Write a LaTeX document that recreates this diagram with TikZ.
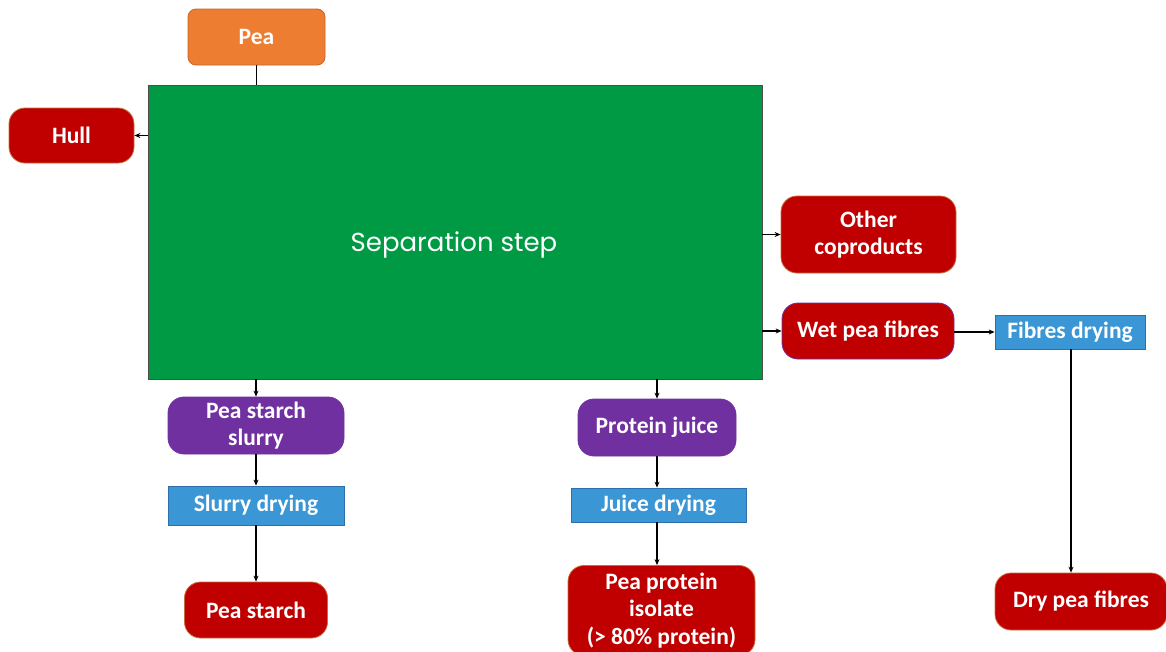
\documentclass[tikz,border=0pt]{standalone}
\usepackage{fontspec}
\setmainfont{Carlito}
\newfontfamily\sepfont{Poppins}
\usetikzlibrary{arrows.meta}
\definecolor{cRed}{RGB}{192,0,0}
\definecolor{cRedB}{RGB}{197,110,60}
\definecolor{cPurple}{RGB}{112,48,160}
\definecolor{cBlue}{RGB}{58,150,212}
\definecolor{cBlueB}{RGB}{46,110,170}
\definecolor{cOrange}{RGB}{237,125,49}
\definecolor{cOrangeB}{RGB}{200,100,40}
\definecolor{cGreen}{RGB}{0,154,68}
\tikzset{
  box/.style={inner sep=0pt, font=\fontsize{23.5}{27.5}\selectfont\bfseries, text=white, align=center, line width=0.8pt},
  prod/.style={box, fill=cRed, draw=cRedB, rounded corners=16pt},
  inter/.style={box, fill=cPurple, draw=cPurple, rounded corners=16pt},
  proc/.style={box, fill=cBlue, draw=cBlueB},
  conn/.style={line width=1.2pt, -{Stealth[length=6pt,width=5pt]}},
}
\begin{document}
\begin{tikzpicture}[x=1pt,y=-1pt]
\useasboundingbox (0,0) rectangle (1166,651);
\node[box, fill=cOrange, draw=cOrangeB, rounded corners=8pt, minimum width=137pt, minimum height=56pt] (pea) at (256.5,37) {Pea};
\node[fill=cGreen, draw=black!70, line width=0.8pt, minimum width=614pt, minimum height=294pt, inner sep=0pt] (sep) at (455,232) {};
\node[text=white, font=\sepfont\fontsize{26}{30}\selectfont] (septxt) at (454,245) {Separation step};
\node[prod, minimum width=125pt, minimum height=55pt] (hull) at (71.5,135.5) {Hull};
\node[prod, minimum width=175pt, minimum height=77pt] (other) at (868.5,234.5) {Other\\coproducts};
\node[prod, draw=cPurple, minimum width=172pt, minimum height=56pt] (wet) at (868,331) {Wet pea fibres};
\node[proc, minimum width=150pt, minimum height=34pt] (fdry) at (1070,332) {Fibres drying};
\node[prod, minimum width=172pt, minimum height=57pt] (dry) at (1081,601.5) {Dry pea fibres};
\node[inter, minimum width=176pt, minimum height=57pt] (slurry) at (256,425.5) {Pea starch\\slurry};
\node[proc, minimum width=176pt, minimum height=39pt] (sdry) at (256,505.5) {Slurry drying};
\node[prod, minimum width=143pt, minimum height=56pt] (starch) at (256,610) {Pea starch};
\node[inter, minimum width=158pt, minimum height=57pt] (juice) at (657,427.5) {Protein juice};
\node[proc, minimum width=175pt, minimum height=34pt] (jdry) at (658.5,505) {Juice drying};
\node[prod, minimum width=187pt, minimum height=90pt] (iso) at (661.5,610.5) {Pea protein\\isolate\\(> 80\% protein)};
\draw[line width=1.2pt] (pea.south) -- (pea.south |- sep.north);
\draw[conn] (sep.west |- hull) -- (hull.east);
\draw[conn] (sep.east |- other) -- (other.west);
\draw[conn] (sep.east |- wet) -- (wet.west);
\draw[conn] (wet.east |- fdry) -- (fdry.west);
\coordinate (fd) at (1071,349);
\draw[conn] (fd) -- (fd |- dry.north);
\draw[conn] (sep.south -| slurry) -- (slurry.north);
\draw[conn] (slurry.south) -- (sdry.north);
\draw[conn] (sdry.south) -- (starch.north);
\draw[conn] (sep.south -| juice) -- (juice.north);
\draw[conn] (juice.south) -- (jdry.north -| juice);
\draw[conn] (jdry.south -| juice) -- (iso.north -| juice);
\end{tikzpicture}
\end{document}
